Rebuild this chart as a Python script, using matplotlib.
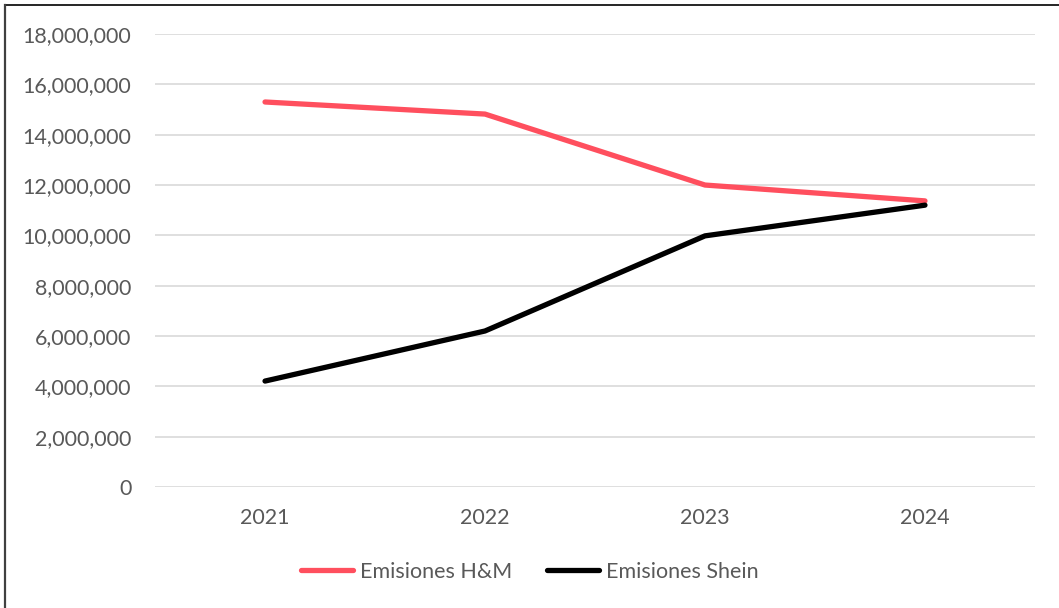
import matplotlib
matplotlib.use('Agg')
import matplotlib.pyplot as plt
from matplotlib.lines import Line2D
from matplotlib.ticker import FuncFormatter

plt.rcParams['font.family'] = ['Lato', 'DejaVu Sans']

years = ['2021', '2022', '2023', '2024']
hm = [15300000, 14820000, 12000000, 11370000]
shein = [4210000, 6200000, 9980000, 11200000]

fig = plt.figure(figsize=(10.59, 6.08), dpi=100)
ax = fig.add_axes([0.1464, 0.199, 0.8309, 0.745])

x = range(len(years))
ax.plot(x, hm, color='#FF4F5E', lw=3.8, solid_capstyle='round', label='Emisiones H&M')
ax.plot(x, shein, color='black', lw=3.8, solid_capstyle='round', label='Emisiones Shein')

ax.set_xlim(-0.5, 3.5)
ax.set_ylim(0, 18000000)
ax.set_yticks(range(0, 18000001, 2000000))
ax.yaxis.set_major_formatter(FuncFormatter(lambda v, p: f'{int(v):,}'))
ax.set_xticks(list(x))
ax.set_xticklabels(years)
ax.grid(axis='y', color='#D9D9D9', lw=1.2)
ax.set_axisbelow(True)
for s in ax.spines.values():
    s.set_visible(False)
ax.tick_params(length=0, labelsize=15.5, colors='#595959', pad=17)
ax.tick_params(axis='x', pad=15)

# legend centred on the whole figure, like the original
ax.legend(loc='center', bbox_to_anchor=(0.5, 1 - 572/608), bbox_transform=fig.transFigure,
          ncol=2, frameon=False, fontsize=15.5, labelcolor='#595959',
          handlelength=2.45, handletextpad=0.3, columnspacing=1.6)

# border of the chart box (top and left only visible)
fig.add_artist(Line2D([5/1059, 1], [1 - 5/608, 1 - 5/608], color='black', lw=1.2))
fig.add_artist(Line2D([5/1059, 5/1059], [0, 1 - 5/608], color='#404040', lw=1.6))

fig.savefig('out.png', dpi=100)
